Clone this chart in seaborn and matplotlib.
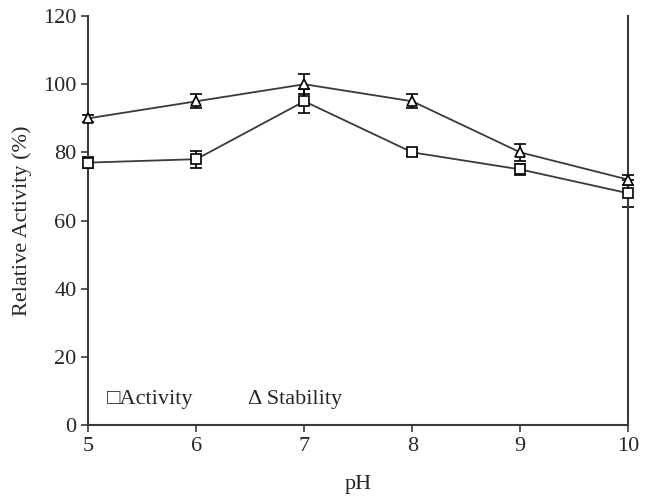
import numpy as np
import pandas as pd
import matplotlib
matplotlib.use("Agg")
import matplotlib.pyplot as plt
import seaborn as sns

# values
ph = [5, 6, 7, 8, 9, 10]
activity = [77, 78, 95, 80, 75, 68]
activity_err = [1.5, 2.5, 3.5, 1.0, 1.5, 4.0]
stability = [90, 95, 100, 95, 80, 72]
stability_err = [1.0, 2.0, 3.0, 2.0, 2.5, 1.5]

sns.set_theme(style="white")
plt.rcParams['font.family'] = ['Liberation Serif', 'DejaVu Serif']

df = pd.DataFrame({
    "pH": ph * 2,
    "value": activity + stability,
    "series": ["Activity"] * len(ph) + ["Stability"] * len(ph),
})

fig, ax = plt.subplots(figsize=(6.45, 5.04), dpi=100)

line_col = "#3a3a3a"
sns.lineplot(data=df, x="pH", y="value", hue="series", style="series",
             markers={"Activity": "s", "Stability": "^"}, dashes=False,
             palette={"Activity": line_col, "Stability": line_col},
             markersize=7, markerfacecolor="white", markeredgecolor="black",
             markeredgewidth=1.2, linewidth=1.3, legend=False, ax=ax,
             zorder=3, clip_on=False)

for y, err in [(activity, activity_err), (stability, stability_err)]:
    eb = ax.errorbar(ph, y, yerr=err, fmt="none", ecolor="black",
                     elinewidth=1.2, capsize=4, capthick=1.2, zorder=2)
    for art in eb.lines[1] + eb.lines[2]:
        art.set_clip_on(False)

ax.set_xlim(5, 10)
ax.set_ylim(0, 120)
ax.set_xticks(ph)
ax.set_yticks(range(0, 121, 20))
ax.set_xlabel("pH", fontsize=16, labelpad=14)
ax.set_ylabel("Relative Activity (%)", fontsize=16, labelpad=8)
ax.tick_params(axis="both", labelsize=16, direction="out", length=5,
               width=1.2, color="#3a3a3a", left=True, bottom=True)

for side in ["left", "bottom", "right"]:
    ax.spines[side].set_color("#3a3a3a")
    ax.spines[side].set_linewidth(1.5)
ax.spines["top"].set_visible(False)

# legend written as text inside the axes
ax.text(5.17, 7.5, "\u25a1Activity", fontsize=16, va="center")
ax.text(6.48, 7.5, "\u0394 Stability", fontsize=16, va="center")

fig.subplots_adjust(left=0.137, right=0.974, top=0.968, bottom=0.157)
fig.savefig("out.png", dpi=100)
